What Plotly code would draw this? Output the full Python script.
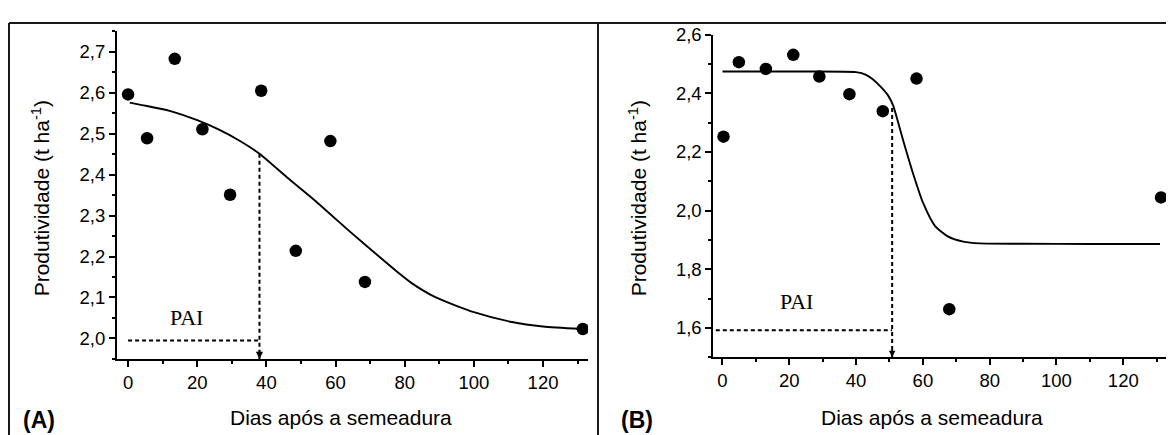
import plotly.graph_objects as go

# ---------------- data ----------------
# Panel A
a_days = [0, 5.5, 13.5, 21.5, 29.5, 38.5, 48.5, 58.5, 68.5, 131.5]
a_yield = [2.596, 2.489, 2.683, 2.511, 2.351, 2.605, 2.214, 2.482, 2.138, 2.023]
a_fit_x = [0.5, 4, 12, 20, 26, 32, 38, 46, 54, 62, 64, 73, 78.5, 82, 89, 100, 111, 120, 131]
a_fit_y = [2.576, 2.570, 2.556, 2.533, 2.511, 2.484, 2.451, 2.393, 2.337, 2.277, 2.262,
           2.197, 2.158, 2.135, 2.100, 2.064, 2.040, 2.029, 2.023]
a_pai = 38
a_pai_yield = 2.451
a_pai_level = 1.995
a_pai_start = 0

# Panel B
b_days = [0.3, 4.9, 13, 21.2, 29, 38, 48, 58.1, 67.9, 131.3]
b_yield = [2.252, 2.506, 2.483, 2.531, 2.457, 2.397, 2.339, 2.450, 1.664, 2.045]
b_fit_x = [0, 20, 40, 43, 45, 47.2, 49.6, 51.1, 54.1, 57.1, 60.1, 63.6, 67.6, 72.1, 77, 90, 110, 131]
b_fit_y = [2.474, 2.474, 2.472, 2.463, 2.448, 2.424, 2.392, 2.358, 2.239, 2.125, 2.025,
           1.948, 1.911, 1.894, 1.888, 1.887, 1.886, 1.886]
b_pai = 50.8
b_pai_yield = 2.35
b_pai_level = 1.592
b_pai_start = -2

x_ticks = [0, 20, 40, 60, 80, 100, 120]
a_yrange = [1.95, 2.75]
b_yrange = [1.5, 2.6]
x_title = "Dias após a semeadura"
y_title = "Produtividade (t ha<sup>-1</sup>)"
panel_labels = ["(A)", "(B)"]
pai_text = "PAI"

# ---------------- figure ----------------
W, H = 1174, 435
OFF = 8  # page body margin
SANS = "Arial, Liberation Sans, sans-serif"
SERIF = "Times New Roman, Liberation Serif, serif"

fig = go.Figure()

def add_panel(xa, ya, days, yld, fx, fy, pai, pai_y, pai_lvl, pai_start, ymin):
    fig.add_trace(go.Scatter(x=fx, y=fy, mode="lines", xaxis=xa, yaxis=ya,
                             line=dict(color="black", width=1.9, shape="spline", smoothing=0.6),
                             showlegend=False, hoverinfo="skip"))
    fig.add_trace(go.Scatter(x=days, y=yld, mode="markers", xaxis=xa, yaxis=ya,
                             marker=dict(color="black", size=12.5, symbol="circle"),
                             showlegend=False))
    fig.add_trace(go.Scatter(x=[pai, pai], y=[pai_y, ymin], mode="lines", xaxis=xa, yaxis=ya,
                             line=dict(color="black", width=2, dash="4px,3px"),
                             showlegend=False, hoverinfo="skip"))
    fig.add_trace(go.Scatter(x=[pai_start, pai], y=[pai_lvl, pai_lvl], mode="lines", xaxis=xa, yaxis=ya,
                             line=dict(color="black", width=2, dash="4px,3px"),
                             showlegend=False, hoverinfo="skip"))

add_panel("x", "y", a_days, a_yield, a_fit_x, a_fit_y, a_pai, a_pai_yield, a_pai_level,
          a_pai_start, a_yrange[0])
add_panel("x2", "y2", b_days, b_yield, b_fit_x, b_fit_y, b_pai, b_pai_yield, b_pai_level,
          b_pai_start, b_yrange[0])

def px_x(p):
    return (p - OFF) / W

def px_y(p):
    return 1 - (p - OFF) / H

axis_common = dict(showline=True, linecolor="black", linewidth=2, showgrid=False, zeroline=False,
                   ticks="outside", ticklen=6, tickwidth=1.5, tickcolor="black",
                   ticklabeloverflow="allow",
                   tickfont=dict(family=SANS, size=18.5, color="black"), mirror=False)

fig.update_layout(
    width=W, height=H,
    margin=dict(l=0, r=0, t=0, b=0),
    paper_bgcolor="white", plot_bgcolor="white",
    separators=",.",
    xaxis=dict(domain=[px_x(117), px_x(588)], range=[-3.2, 133], tickvals=x_ticks,
               minor=dict(ticks="outside", ticklen=3, dtick=10, tick0=0, tickcolor="black", tickwidth=1.5),
               anchor="y", **axis_common),
    yaxis=dict(domain=[px_y(356.7), px_y(20.7)], range=a_yrange, dtick=0.1, tick0=2.0,
               tickformat=".1f",
               minor=dict(ticks="outside", ticklen=3, dtick=0.05, tick0=2.0, tickcolor="black", tickwidth=1.5),
               anchor="x", **axis_common),
    xaxis2=dict(domain=[px_x(713.3), px_x(1166.7)], range=[-2.75, 133], tickvals=x_ticks,
                minor=dict(ticks="outside", ticklen=3, dtick=10, tick0=0, tickcolor="black", tickwidth=1.5),
                anchor="y2", **axis_common),
    yaxis2=dict(domain=[px_y(355), px_y(24)], range=b_yrange, dtick=0.2, tick0=1.6,
                tickformat=".1f",
                minor=dict(ticks="outside", ticklen=3, dtick=0.1, tick0=1.5, tickcolor="black", tickwidth=1.5),
                anchor="x2", **axis_common),
)

ann = []
ann.append(dict(x=17, y=2.05, xref="x", yref="y", text=pai_text, showarrow=False,
                font=dict(family=SERIF, size=22, color="black")))
ann.append(dict(x=22.2, y=1.69, xref="x2", yref="y2", text=pai_text, showarrow=False,
                font=dict(family=SERIF, size=22, color="black")))
ann.append(dict(x=a_pai, y=a_yrange[0], ax=a_pai, ay=a_yrange[0] + 0.025, xref="x", yref="y",
                axref="x", ayref="y", text="", showarrow=True, arrowhead=2, arrowsize=0.9,
                arrowwidth=1.6, arrowcolor="black", standoff=0))
ann.append(dict(x=b_pai, y=b_yrange[0], ax=b_pai, ay=b_yrange[0] + 0.03, xref="x2", yref="y2",
                axref="x2", ayref="y2", text="", showarrow=True, arrowhead=2, arrowsize=0.8,
                arrowwidth=1.6, arrowcolor="black", standoff=0))
for cx in (341, 931.7):
    ann.append(dict(x=px_x(cx), y=px_y(417), xref="paper", yref="paper", text=x_title,
                    showarrow=False, xanchor="center", yanchor="middle",
                    font=dict(family=SANS, size=21, color="black")))
for cx in (41, 638):
    ann.append(dict(x=px_x(cx), y=px_y(192), xref="paper", yref="paper", text=y_title,
                    showarrow=False, xanchor="center", yanchor="middle", textangle=-90,
                    font=dict(family=SANS, size=21, color="black")))
for lx, lab in zip((21, 619), panel_labels):
    ann.append(dict(x=px_x(lx), y=px_y(419), xref="paper", yref="paper", text="<b>%s</b>" % lab,
                    showarrow=False, xanchor="left", yanchor="middle",
                    font=dict(family=SANS, size=23, color="black")))
fig.update_layout(annotations=ann)

frame = dict(type="line", xref="paper", yref="paper", line=dict(color="#1a1a1a", width=2))
top = px_y(12)
fig.add_shape(x0=px_x(9), x1=px_x(1170), y0=top, y1=top, **frame)
fig.add_shape(x0=px_x(9), x1=px_x(9), y0=0, y1=top, **frame)
fig.add_shape(x0=px_x(598), x1=px_x(598), y0=0, y1=top, **frame)

fig.write_html("out.html")
